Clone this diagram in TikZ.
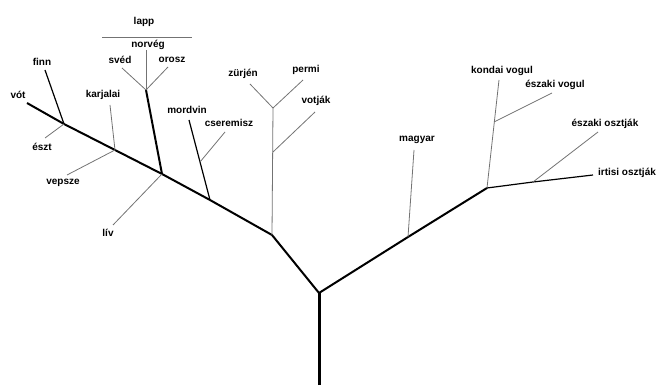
\documentclass[tikz,border=0pt]{standalone}
\usepackage{fontspec}
\setmainfont{Liberation Sans}
\usepackage{tikz}

\tikzset{
  lang/.style={font=\bfseries\fontsize{10}{12}\selectfont, inner sep=1pt},
  trunk/.style={line width=3pt},
  heavy/.style={line width=2pt},
  mid/.style={line width=1.2pt},
  thin/.style={line width=0.8pt, black!55},
}

\begin{document}
\begin{tikzpicture}[x=1pt, y=-1pt]
\useasboundingbox (0,0) rectangle (656,387);

% junctions
\coordinate (root) at (319,385);
\coordinate (fu) at (319,293);
\coordinate (fp) at (272,235);
\coordinate (vm) at (210,200);
\coordinate (lf) at (162,174);
\coordinate (kv) at (115,150);
\coordinate (fe) at (64,124);
\coordinate (lp) at (146,90);
\coordinate (cs) at (200,162);
\coordinate (pm) at (273,108);
\coordinate (vj) at (273,152);
\coordinate (ug) at (408,237);
\coordinate (ob) at (487,188);
\coordinate (vg) at (494,122);
\coordinate (os) at (533,182);

% line ends
\coordinate (votE) at (27,103);
\coordinate (finnE) at (45,70);
\coordinate (esztE) at (45,138);
\coordinate (karjE) at (110,105);
\coordinate (vepsE) at (67,175);
\coordinate (livE) at (113,225);
\coordinate (svedE) at (122,68);
\coordinate (oroszE) at (168,67);
\coordinate (lappE) at (146,50);
\coordinate (barL) at (102,37);
\coordinate (barR) at (192,37);
\coordinate (mordE) at (189,120);
\coordinate (cserE) at (225,132);
\coordinate (zurjE) at (250,84);
\coordinate (permE) at (303,80);
\coordinate (votjE) at (315,112);
\coordinate (magyE) at (414,150);
\coordinate (kondE) at (499,80);
\coordinate (eszvE) at (552,93);
\coordinate (eszoE) at (598,132);
\coordinate (irtE) at (593,175);

% labels
\node[lang] (lapp) at (144,22) {lapp};
\node[lang] (norveg) at (148,45) {norvég};
\node[lang] (sved) at (120,60) {svéd};
\node[lang] (orosz) at (172,60) {orosz};
\node[lang] (finn) at (42,62) {finn};
\node[lang] (vot) at (18,95) {vót};
\node[lang] (karj) at (103,95) {karjalai};
\node[lang] (eszt) at (42,147) {észt};
\node[lang] (veps) at (63,183) {vepsze};
\node[lang] (liv) at (108,233) {lív};
\node[lang] (mord) at (187,110) {mordvin};
\node[lang] (cser) at (229,123) {cseremisz};
\node[lang] (zurj) at (243,74) {zürjén};
\node[lang] (perm) at (306,70) {permi};
\node[lang] (votj) at (316,101) {votják};
\node[lang] (magy) at (417,140) {magyar};
\node[lang] (kond) at (502,71) {kondai vogul};
\node[lang] (eszv) at (555,85) {északi vogul};
\node[lang] (eszo) at (605,124) {északi osztják};
\node[lang] (irt) at (627,173) {irtisi osztják};

% trunk
\draw[trunk] (root) -- (fu);
\draw[heavy] (fu) -- (fp) -- (vm) -- (lf) -- (kv) -- (fe) -- (votE);
\draw[heavy] (fu) -- (ug) -- (ob);

% finn-permi side
\draw[mid] (fe) -- (finnE);
\draw[thin] (fe) -- (esztE);
\draw[thin] (kv) -- (karjE);
\draw[thin] (kv) -- (vepsE);
\draw[thin] (lf) -- (livE);
\draw[heavy] (lf) -- (lp);
\draw[thin] (lp) -- (lappE);
\draw[thin] (lp) -- (svedE);
\draw[thin] (lp) -- (oroszE);
\draw[thin] (barL) -- (barR);
\draw[mid] (vm) -- (mordE);
\draw[thin] (cs) -- (cserE);
\draw[thin] (fp) -- (pm);
\draw[thin] (pm) -- (zurjE);
\draw[thin] (pm) -- (permE);
\draw[thin] (vj) -- (votjE);

% ugor side
\draw[thin] (ug) -- (magyE);
\draw[thin] (ob) -- (kondE);
\draw[thin] (vg) -- (eszvE);
\draw[mid] (ob) -- (os) -- (irtE);
\draw[thin] (os) -- (eszoE);

\end{tikzpicture}
\end{document}
